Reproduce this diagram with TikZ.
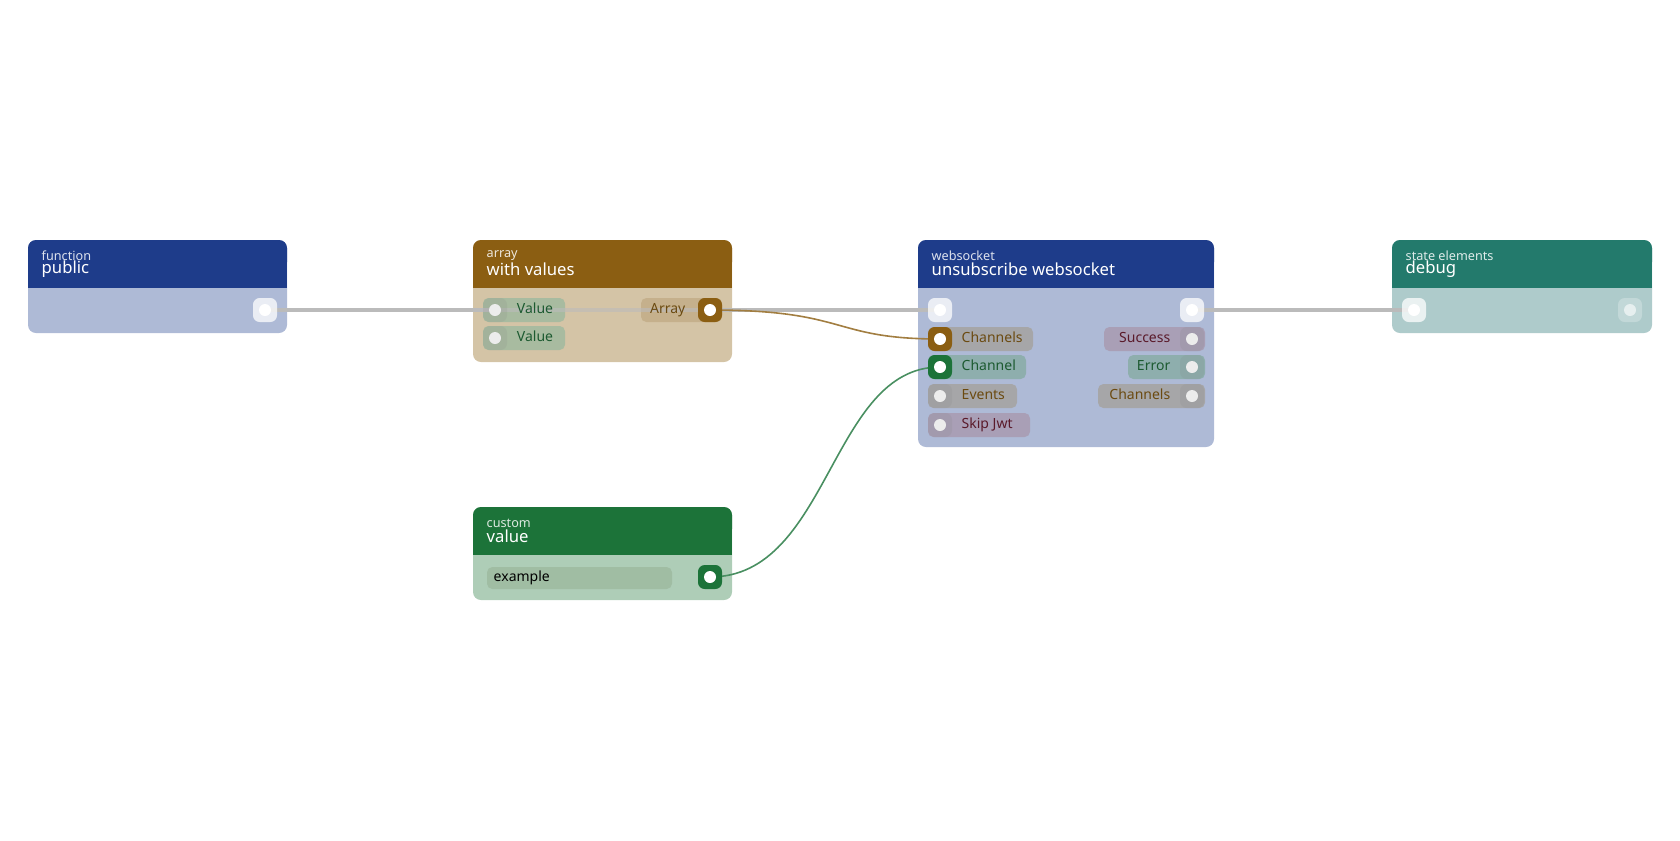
\documentclass[tikz,border=0pt]{standalone}
\usepackage{fontspec}
\setmainfont{Noto Sans}
\usetikzlibrary{positioning,calc}
\definecolor{hdblue}{HTML}{1E3C8A}
\definecolor{bdblue}{HTML}{AEBAD6}
\definecolor{hdbrown}{HTML}{8B5E12}
\definecolor{bdbrown}{HTML}{D4C4A6}
\definecolor{hdgreen}{HTML}{1C7339}
\definecolor{bdgreen}{HTML}{AECDB7}
\definecolor{hdteal}{HTML}{237A6C}
\definecolor{bdteal}{HTML}{AECBCB}
\definecolor{wire}{HTML}{BBBBBB}
\definecolor{pgray}{HTML}{A5A29D}
\definecolor{pteal}{HTML}{86ABA3}
\definecolor{pmauve}{HTML}{A899AE}
\definecolor{pgreen}{HTML}{9DB99F}
\definecolor{ptan}{HTML}{C2AC86}
\definecolor{tbrown}{HTML}{6B4A10}
\definecolor{tgreen}{HTML}{1C5A30}
\definecolor{tmauve}{HTML}{5A1A2A}
\tikzset{
  hdr/.style={rounded corners=6pt},
  hdlabel/.style={text=white,font=\fontsize{9.5}{10}\selectfont,anchor=west,opacity=0.85},
  hdtitle/.style={text=white,font=\fontsize{12.5}{13}\selectfont,anchor=west},
  pill/.style={rounded corners=4pt,opacity=0.8},
  plabel/.style={font=\fontsize{10.5}{11}\selectfont},
  port/.style={draw=none,rounded corners=5pt,minimum size=18pt,inner sep=0pt},
  dot/.style={circle,fill=white,minimum size=9pt,inner sep=0pt},
  link/.style={line width=3.5pt,wire},
}
\begin{document}
\begin{tikzpicture}[x=0.75pt,y=-0.75pt]
  \useasboundingbox (0,0) rectangle (1680,840);
  % node bodies
  \fill[bdblue,hdr] (28,240) rectangle (287,333);
  \fill[hdblue] (28,260) rectangle (287,288);
  \fill[hdblue,hdr] (28,240) rectangle (287,270);
  \node[hdlabel] (fnlbl) at (37,256) {function};
  \node[hdtitle] (fnttl) at (37,269) {public};

  \fill[bdbrown,hdr] (473,240) rectangle (732,362);
  \fill[hdbrown] (473,260) rectangle (732,288);
  \fill[hdbrown,hdr] (473,240) rectangle (732,270);
  \node[hdlabel] (arlbl) at (482,256) {array};
  \node[hdtitle] (arttl) at (482,269) {with values};

  \fill[bdgreen,hdr] (473,507) rectangle (732,600);
  \fill[hdgreen] (473,527) rectangle (732,555);
  \fill[hdgreen,hdr] (473,507) rectangle (732,537);
  \node[hdlabel] (cvlbl) at (482,523) {custom};
  \node[hdtitle] (cvttl) at (482,536) {value};
  \fill[pgreen,pill] (487,567) rectangle (672,589);
  \node[plabel,anchor=mid west] (cvex) at (489,578) {example};

  \fill[bdblue,hdr] (918,240) rectangle (1214,447);
  \fill[hdblue] (918,260) rectangle (1214,288);
  \fill[hdblue,hdr] (918,240) rectangle (1214,270);
  \node[hdlabel] (wslbl) at (927,256) {websocket};
  \node[hdtitle] (wsttl) at (927,269) {unsubscribe websocket};

  \fill[bdteal,hdr] (1392,240) rectangle (1652,333);
  \fill[hdteal] (1392,260) rectangle (1652,288);
  \fill[hdteal,hdr] (1392,240) rectangle (1652,270);
  \node[hdlabel] (dblbl) at (1401,256) {state elements};
  \node[hdtitle] (dbttl) at (1401,269) {debug};

  % port positions
  \coordinate (pubout) at (265,310);
  \coordinate (valin) at (495,310);
  \coordinate (valin2) at (495,338);
  \coordinate (arrout) at (710,310);
  \coordinate (cvout) at (710,577);
  \coordinate (wsin) at (940,310);
  \coordinate (chsin) at (940,339);
  \coordinate (chin) at (940,367);
  \coordinate (evin) at (940,396);
  \coordinate (jwtin) at (940,425);
  \coordinate (wsout) at (1192,310);
  \coordinate (sucout) at (1192,339);
  \coordinate (errout) at (1192,367);
  \coordinate (chsout) at (1192,396);
  \coordinate (dbin) at (1414,310);
  \coordinate (dbout) at (1630,310);

  % pills
  \fill[pgreen,pill] (483,298) rectangle (565,322);
  \fill[pgreen,pill] (483,326) rectangle (565,350);
  \fill[ptan,pill] (641,298) rectangle (722,322);
  \fill[pgray,pill] (928,327) rectangle (1033,351);
  \fill[pteal,pill] (928,355) rectangle (1026,379);
  \fill[pgray,pill] (928,384) rectangle (1017,408);
  \fill[pmauve,pill] (928,413) rectangle (1030,437);
  \fill[pmauve,pill] (1104,327) rectangle (1205,351);
  \fill[pteal,pill] (1128,355) rectangle (1205,379);
  \fill[pgray,pill] (1098,384) rectangle (1205,408);

  % connectors
  \draw[link] (pubout) -- (valin);
  \draw[link,opacity=0.6] (valin) -- (arrout);
  \draw[link] (arrout) -- (wsin);
  \draw[link] (wsout) -- (dbin);
  \draw[hdbrown!80,line width=1.2pt] (arrout) .. controls (850,310) and (830,339) .. (chsin);
  \draw[hdgreen!80,line width=1.2pt] (cvout) .. controls (830,577) and (830,367) .. (chin);

  % ports
  \node[port,fill=white,opacity=0.75] (pubp) at (pubout) {};
  \node[dot] at (pubp) {};
  \node[port,fill=gray,opacity=0.15] (valp) at (valin) {};
  \node[dot,fill=white!85!gray] at (valp) {};
  \node[port,fill=gray,opacity=0.15] (valp2) at (valin2) {};
  \node[dot,fill=white!85!gray] at (valp2) {};
  \node[port,fill=hdbrown] (arrp) at (arrout) {};
  \node[dot] at (arrp) {};
  \node[port,fill=hdgreen] (cvp) at (cvout) {};
  \node[dot] at (cvp) {};
  \node[port,fill=white,opacity=0.75] (wsinp) at (wsin) {};
  \node[dot] at (wsinp) {};
  \node[port,fill=hdbrown] (chsp) at (chsin) {};
  \node[dot] at (chsp) {};
  \node[port,fill=hdgreen] (chp) at (chin) {};
  \node[dot] at (chp) {};
  \foreach \p in {evin,jwtin,sucout,errout,chsout} {
    \node[port,fill=gray,opacity=0.15] (\p p) at (\p) {};
    \node[dot,fill=white!85!gray] at (\p p) {};
  }
  \node[port,fill=white,opacity=0.75] (wsoutp) at (wsout) {};
  \node[dot] at (wsoutp) {};
  \node[port,fill=white,opacity=0.75] (dbinp) at (dbin) {};
  \node[dot] at (dbinp) {};
  \node[port,fill=white,opacity=0.25] (dboutp) at (dbout) {};
  \node[dot,opacity=0.6] at (dboutp) {};

  % port labels
  \node[plabel,text=tgreen,anchor=mid] at (535,310) {Value};
  \node[plabel,text=tgreen,anchor=mid] at (535,338) {Value};
  \node[plabel,text=tbrown,anchor=mid east] at (690,310) {Array};
  \node[plabel,text=tbrown,anchor=mid west] at (957,339) {Channels};
  \node[plabel,text=tgreen,anchor=mid west] at (957,367) {Channel};
  \node[plabel,text=tbrown,anchor=mid west] at (957,396) {Events};
  \node[plabel,text=tmauve,anchor=mid west] at (957,425) {Skip Jwt};
  \node[plabel,text=tmauve,anchor=mid east] at (1175,339) {Success};
  \node[plabel,text=tgreen,anchor=mid east] at (1175,367) {Error};
  \node[plabel,text=tbrown,anchor=mid east] at (1175,396) {Channels};
\end{tikzpicture}
\end{document}
